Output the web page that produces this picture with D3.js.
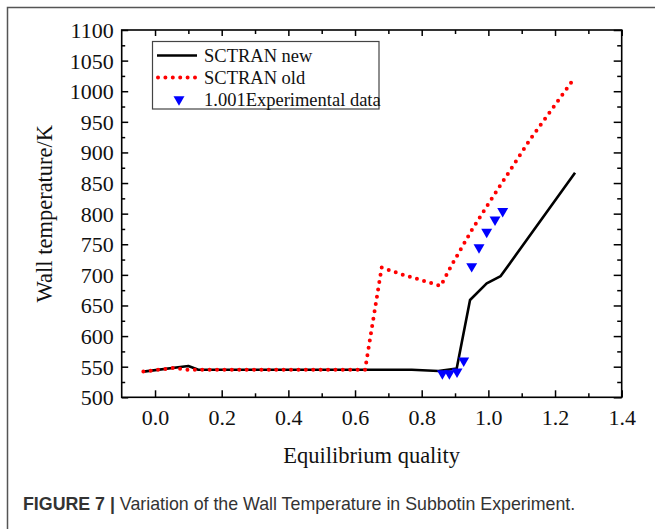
<!DOCTYPE html>
<html>
<head>
<meta charset="utf-8">
<script src="https://cdn.jsdelivr.net/npm/d3@7"></script>
<style>
  body { margin: 0; background: #fff; }
  svg { display: block; }
</style>
</head>
<body>
<svg id="chart" width="655" height="529"></svg>
<script>
'use strict';

// SCTRAN new (black solid)
const newX = [-0.035, 0.1, 0.13, 0.77, 0.85, 0.905, 0.945, 0.995, 1.037, 1.26];
const newT = [542, 551, 545, 545, 543, 547, 659, 686, 698, 867];

// SCTRAN old (red dotted)
const oldX = [-0.035, 0.055, 0.1, 0.63, 0.68, 0.745, 0.857, 0.89, 0.95, 1.0, 1.125, 1.26];
const oldT = [542, 548, 545, 545, 712, 700, 682, 716, 773, 816, 921, 1023];

// experimental points
const expX = [0.862, 0.883, 0.906, 0.926, 0.95, 0.972, 0.995, 1.02, 1.043];
const expT = [539, 539, 542, 560, 714, 745, 770, 790, 804];

// ticks
const xTicks = [0, 0.2, 0.4, 0.6, 0.8, 1.0, 1.2, 1.4];
const xMinor = [0.1, 0.3, 0.5, 0.7, 0.9, 1.1, 1.3];
const yTicks = d3.range(500, 1101, 50);
const yMinor = d3.range(525, 1100, 50);

const legendLabels = ['SCTRAN new', 'SCTRAN old', '1.001Experimental data'];

const svg = d3.select('#chart');
const serif = 'Liberation Serif, Times New Roman, serif';

// рамка рисунка
svg.append('path')
  .attr('d', 'M7.5,529 V7.5 H655')
  .attr('fill', 'none')
  .attr('stroke', '#555')
  .attr('stroke-width', 1.5);

const plotL = 121.7, plotR = 621.7, plotT = 30, plotB = 397.3;

const x = d3.scaleLinear().domain([-0.1, 1.4]).range([plotL, plotR]);
const y = d3.scaleLinear().domain([500, 1100]).range([plotB, plotT]);

// оси с тиками внутрь
const addAxis = (axis, tr, vals, size, fmt) => {
  const g = svg.append('g')
    .attr('transform', tr)
    .call(axis.tickValues(vals).tickSize(-size).tickSizeOuter(0)
      .tickFormat(fmt || (() => '')));
  g.select('.domain').remove();
  g.selectAll('line').attr('stroke', '#000').attr('stroke-width', 1.5);
  g.selectAll('text')
    .attr('font-family', serif)
    .attr('font-size', 22)
    .attr('fill', '#111');
  return g;
};

const gxb = addAxis(d3.axisBottom(x), `translate(0,${plotB})`, xTicks, 7, d3.format('.1f'));
gxb.selectAll('text').attr('y', 12.5).attr('dy', '0.71em');
addAxis(d3.axisBottom(x), `translate(0,${plotB})`, xMinor, 4);
addAxis(d3.axisTop(x), `translate(0,${plotT})`, xTicks, 6);
addAxis(d3.axisTop(x), `translate(0,${plotT})`, xMinor, 4);

const gyl = addAxis(d3.axisLeft(y), `translate(${plotL},0)`, yTicks, 6.5, d3.format('d'));
gyl.selectAll('text').attr('x', -8).attr('dy', '0.34em');
addAxis(d3.axisLeft(y), `translate(${plotL},0)`, yMinor, 3.5);
addAxis(d3.axisRight(y), `translate(${plotR},0)`, yTicks, 8);
addAxis(d3.axisRight(y), `translate(${plotR},0)`, yMinor, 4.5);

svg.append('rect')
  .attr('x', plotL).attr('y', plotT)
  .attr('width', plotR - plotL).attr('height', plotB - plotT)
  .attr('fill', 'none')
  .attr('stroke', '#000')
  .attr('stroke-width', 1.6);

// подписи осей
svg.append('text')
  .attr('x', (plotL + plotR) / 2).attr('y', 463)
  .attr('text-anchor', 'middle')
  .attr('font-family', serif).attr('font-size', 22.5).attr('fill', '#111')
  .text('Equilibrium quality');

svg.append('text')
  .attr('transform', `translate(52,${(plotT + plotB) / 2}) rotate(-90)`)
  .attr('text-anchor', 'middle')
  .attr('font-family', serif).attr('font-size', 22.5).attr('fill', '#111')
  .text('Wall temperature/K');

// линии
const line = d3.line().x(d => x(d[0])).y(d => y(d[1]));

svg.append('path')
  .datum(d3.zip(newX, newT))
  .attr('d', line)
  .attr('fill', 'none')
  .attr('stroke', '#000')
  .attr('stroke-width', 2.6)
  .attr('stroke-linejoin', 'round');

svg.append('path')
  .datum(d3.zip(oldX, oldT))
  .attr('d', line)
  .attr('fill', 'none')
  .attr('stroke', '#ff0000')
  .attr('stroke-width', 4)
  .attr('stroke-linecap', 'round')
  .attr('stroke-dasharray', '0 7.4');

const tri = d3.symbol().type(d3.symbolTriangle).size(52);
svg.selectAll('.exp')
  .data(d3.zip(expX, expT))
  .enter()
  .append('path')
  .attr('class', 'exp')
  .attr('d', tri)
  .attr('transform', d => `translate(${x(d[0])},${y(d[1])}) rotate(180)`)
  .attr('fill', '#0000ff');

// легенда
const lg = svg.append('g');
lg.append('rect')
  .attr('x', 152.5).attr('y', 41.5).attr('width', 226.5).attr('height', 67.5)
  .attr('fill', '#fff').attr('stroke', '#444').attr('stroke-width', 1.2);

const rowY = [55.5, 77.5, 99.5];
lg.append('line')
  .attr('x1', 157).attr('x2', 197).attr('y1', rowY[0]).attr('y2', rowY[0])
  .attr('stroke', '#000').attr('stroke-width', 2.6);
lg.append('line')
  .attr('x1', 158).attr('x2', 197).attr('y1', rowY[1]).attr('y2', rowY[1])
  .attr('stroke', '#ff0000').attr('stroke-width', 4)
  .attr('stroke-linecap', 'round').attr('stroke-dasharray', '0 7.4');
lg.append('path')
  .attr('d', tri)
  .attr('transform', `translate(179,${rowY[2]}) rotate(180)`)
  .attr('fill', '#0000ff');

lg.selectAll('.lab')
  .data(legendLabels)
  .enter()
  .append('text')
  .attr('x', 204)
  .attr('y', (d, i) => rowY[i] + 6.3)
  .attr('font-family', serif).attr('font-size', 18.5).attr('fill', '#111')
  .text(d => d);

// подпись рисунка
const cap = svg.append('text')
  .attr('x', 23).attr('y', 510)
  .attr('font-family', 'Liberation Sans, Arial, sans-serif')
  .attr('font-size', 17.8)
  .attr('fill', '#333');
cap.append('tspan').attr('font-weight', 'bold').text('FIGURE 7 | ');
cap.append('tspan').text('Variation of the Wall Temperature in Subbotin Experiment.');
</script>
</body>
</html>
